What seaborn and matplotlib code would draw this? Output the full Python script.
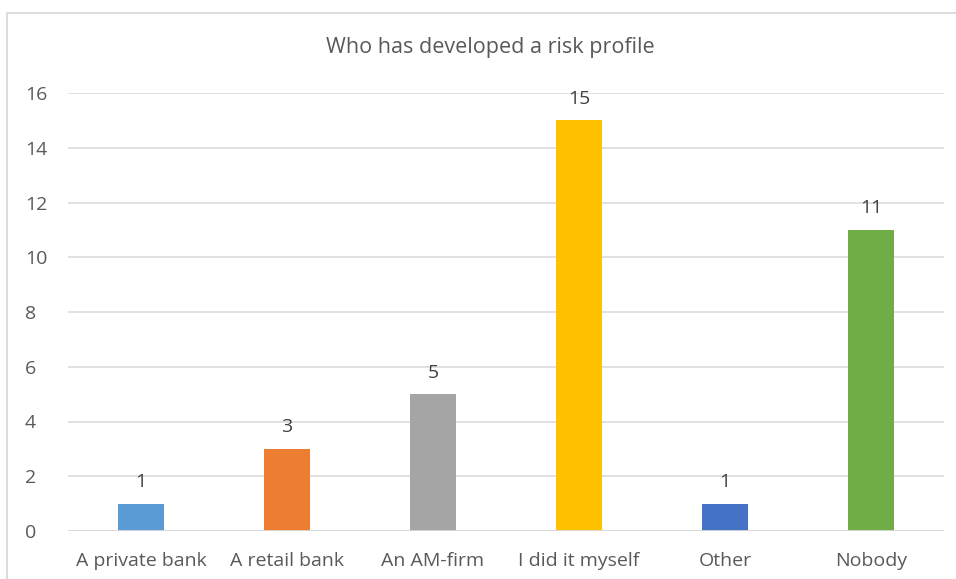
import matplotlib
matplotlib.use("Agg")
import matplotlib.pyplot as plt
import seaborn as sns
import pandas as pd
from matplotlib.patches import Rectangle

categories = ["A private bank", "A retail bank", "An AM-firm", "I did it myself", "Other", "Nobody"]
counts = [1, 3, 5, 15, 1, 11]
bar_colors = ["#5B9BD5", "#ED7D31", "#A5A5A5", "#FFC000", "#4472C4", "#70AD47"]
y_ticks = [0, 2, 4, 6, 8, 10, 12, 14, 16]
title = "Who has developed a risk profile"

sns.set_theme(style="white")
plt.rcParams["font.family"] = ["Open Sans", "DejaVu Sans"]
text_color = "#595959"
grid_color = "#D9D9D9"

df = pd.DataFrame({"category": categories, "count": counts})

fig = plt.figure(figsize=(9.56, 5.79), dpi=100)
W, H = 956, 579
ax = fig.add_axes([68 / W, 48 / H, (944 - 68) / W, (531 - 93) / H])

sns.barplot(data=df, x="category", y="count", hue="category", palette=bar_colors,
            legend=False, width=0.315, ax=ax, saturation=1, zorder=3, linewidth=0)

ax.set_ylim(0, 16)
ax.set_yticks(y_ticks)
ax.set_xlim(-0.5, len(categories) - 0.5)
ax.yaxis.grid(True, color=grid_color, linewidth=1.1, zorder=0)
ax.set_axisbelow(True)
for s in ax.spines.values():
    s.set_visible(False)
ax.axhline(0, color=grid_color, linewidth=1.3, zorder=4)
ax.set_xlabel("")
ax.set_ylabel("")
ax.tick_params(axis="both", length=0, labelsize=14, colors=text_color)
ax.tick_params(axis="x", pad=15)
ax.tick_params(axis="y", pad=31)
for lab in ax.get_yticklabels():
    lab.set_horizontalalignment("left")

for container in ax.containers:
    ax.bar_label(container, fmt="%d", padding=9, fontsize=14, color="#404040")

fig.text(490 / W, 1 - 47 / H, title, ha="center", va="center", fontsize=15.5, color=text_color)

# chart frame
fig.patches.append(Rectangle((7 / W, -0.1), 1.2, 1 - 13 / H + 0.1, transform=fig.transFigure,
                             fill=False, edgecolor=grid_color, linewidth=1.3))

fig.savefig("out.png", dpi=100)
